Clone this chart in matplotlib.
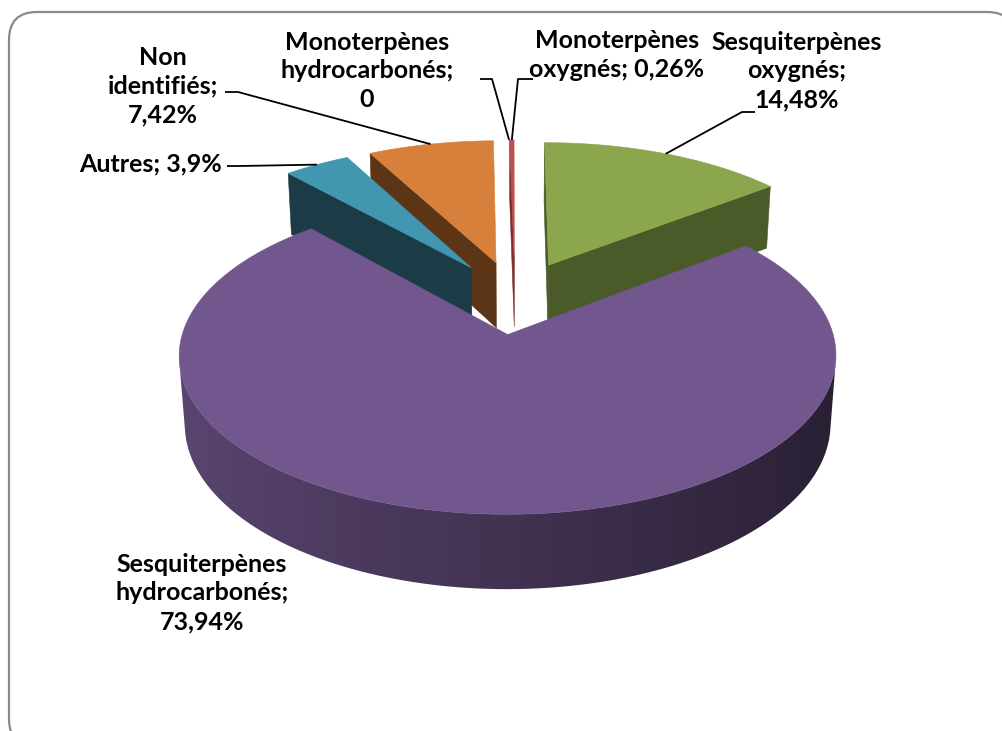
import numpy as np
import matplotlib
matplotlib.use("Agg")
import matplotlib.pyplot as plt
from matplotlib.patches import Polygon, FancyBboxPatch
from matplotlib.colors import to_rgb

# ---------------------------------------------------------------- data
categories = ["Monoterpènes hydrocarbonés", "Monoterpènes oxygnés",
              "Sesquiterpènes oxygnés", "Sesquiterpènes hydrocarbonés",
              "Autres", "Non identifiés"]
values = [0.0, 0.26, 14.48, 73.94, 3.9, 7.42]
value_labels = ["0", "0,26%", "14,48%", "73,94%", "3,9%", "7,42%"]

# ---------------------------------------------------------------- style
top_colors = ["#4F81BD", "#BE4F4C", "#8BA64C", "#71578D", "#4197AF", "#D7803B"]
side_colors = ["#2A4466", "#7A2E2C", "#4A5A29", "#5E4A7A", "#1B3B47", "#5C3517"]

W, H = 1003, 731
FIRST_ANGLE = 359.0          # degrees, clockwise from 12 o'clock
EXPLODE = 0.25               # in pie radii
THICK = 0.242                # pie height, in radii
ELEV = np.deg2rad(27.6)      # viewing elevation
DIST = 6.87                  # camera distance, in radii
SCALE = 315.0                # pixels per radius
CX, CY = 515.0, 297.0        # screen position of the pie centre (top face)

# label layout: line breaks (after word index), block centre, leader path
label_breaks = [[0, 1], [0], [0, 1], [0, 1], [], [0, 1]]
label_pos = [(367, 71), (617, 55), (797, 71), (202, 593), (151, 164), (163, 86)]
leader_start = [[(480, 79), (492, 79)],
                [(533, 79), (518, 79)],
                [(755, 112), (742, 112)],
                None,
                [(227, 166), (240, 166)],
                [(225, 92), (238, 92)]]


def project(x, y, z):
    """Perspective projection of pie space (x right, y away, z up) to pixels."""
    s, c = np.sin(ELEV), np.cos(ELEV)
    depth = y * c - z * s
    f = DIST / (DIST + depth)
    return CX + SCALE * x * f, CY - SCALE * (y * s + z * c) * f


def camera():
    s, c = np.sin(ELEV), np.cos(ELEV)
    return np.array([0.0, -DIST * c, DIST * s])


def facing(point, normal):
    return np.dot(np.asarray(point) - camera(), normal) < 0


def shade(color, k):
    return np.clip(np.array(to_rgb(color)) * k, 0, 1)


fig = plt.figure(figsize=(W / 100, H / 100), dpi=100)
ax = fig.add_axes([0, 0, 1, 1])

# chart frame
frame = FancyBboxPatch((9, 12), 1006, 735, boxstyle="round,pad=0,rounding_size=28",
                       facecolor="white", edgecolor="#8A8A8A", linewidth=1.6,
                       clip_on=False, zorder=0)
ax.add_patch(frame)

total = sum(values)
angles = []
a = FIRST_ANGLE
for v in values:
    span = v / total * 360.0
    angles.append((a, a + span))
    a += span

slices = []
for i, (v, (t0, t1)) in enumerate(zip(values, angles)):
    mid = np.deg2rad((t0 + t1) / 2)
    ox, oy = EXPLODE * np.sin(mid), EXPLODE * np.cos(mid)
    slices.append((i, v, np.deg2rad(t0), np.deg2rad(t1), ox, oy))


def draw_wall(i, th, ox, oy, z):
    """Curved outer wall over angles th, filled with a horizontal light gradient."""
    xs, ys = ox + np.sin(th), oy + np.cos(th)
    tx, ty = project(xs, ys, 0)
    bx, by = project(xs, ys, -THICK)
    poly = np.column_stack([np.r_[tx, bx[::-1]], np.r_[ty, by[::-1]]])
    patch = Polygon(poly, closed=True, facecolor="none", edgecolor="none",
                    transform=ax.transData)
    ax.add_patch(patch)
    k = 0.58 - 0.22 * np.sin(th)
    order_x = np.argsort(tx)
    x0, x1 = poly[:, 0].min() - 1, poly[:, 0].max() + 1
    y0, y1 = poly[:, 1].min() - 1, poly[:, 1].max() + 1
    gx = np.linspace(x0, x1, 600)
    kk = np.interp(gx, tx[order_x], k[order_x])
    img = np.array([shade(top_colors[i], q) for q in kk])[None, :, :]
    im = ax.imshow(img, extent=[x0, x1, y1, y0], aspect="auto",
                   interpolation="bilinear", zorder=z)
    im.set_clip_path(patch)


# far slices first
order = sorted(slices, key=lambda s: -s[5])
z_level = 1
for i, v, t0, t1, ox, oy in order:
    if v <= 0:
        continue
    n = max(int(np.degrees(t1 - t0) * 2), 2)
    th = np.linspace(t0, t1, n + 1)
    xs = ox + np.sin(th)
    ys = oy + np.cos(th)

    # visible parts of the outer curved wall
    vis = np.array([facing([ox + np.sin(t), oy + np.cos(t), -THICK / 2],
                           [np.sin(t), np.cos(t), 0.0]) for t in th])
    j = 0
    while j < len(th):
        if vis[j]:
            k = j
            while k + 1 < len(th) and vis[k + 1]:
                k += 1
            if k > j:
                draw_wall(i, th[j:k + 1], ox, oy, z_level)
            j = k + 1
        else:
            j += 1

    # flat radial walls
    for t, sign in ((t0, -1), (t1, 1)):
        nrm = sign * np.array([np.cos(t), -np.sin(t), 0.0])
        pm = np.array([ox + 0.5 * np.sin(t), oy + 0.5 * np.cos(t), -THICK / 2])
        if not facing(pm, nrm):
            continue
        rx, ry = ox + np.sin(t), oy + np.cos(t)
        p = [project(ox, oy, 0), project(rx, ry, 0),
             project(rx, ry, -THICK), project(ox, oy, -THICK)]
        ax.add_patch(Polygon(p, closed=True, facecolor=side_colors[i],
                             edgecolor=side_colors[i], linewidth=0.4,
                             zorder=z_level + 0.2))
    # top face
    tx, ty = project(np.r_[ox, xs], np.r_[oy, ys], 0)
    ax.add_patch(Polygon(np.column_stack([tx, ty]), closed=True,
                         facecolor=top_colors[i], edgecolor=top_colors[i],
                         linewidth=0.4, zorder=z_level + 0.5))
    z_level += 1

# data labels with leader lines
for i, (cat, vl) in enumerate(zip(categories, value_labels)):
    words = f"{cat}; {vl}".split(" ")
    txt = ""
    for k, w in enumerate(words):
        txt += w
        if k < len(words) - 1:
            txt += "\n" if k in label_breaks[i] else " "
    x, y = label_pos[i]
    ax.text(x, y, txt, ha="center", va="center", multialignment="center",
            fontsize=18, fontweight="bold", family=["Lato", "DejaVu Sans"],
            color="black", linespacing=1.3, zorder=20)
    if leader_start[i] is not None:
        _, _, t0, t1, ox, oy = slices[i]
        tm = 0.5 * (t0 + t1)
        ex, ey = project(ox + np.sin(tm), oy + np.cos(tm), 0)
        pts = leader_start[i] + [(ex, ey)]
        ax.plot([p[0] for p in pts], [p[1] for p in pts], color="black",
                linewidth=1.3, zorder=19, solid_capstyle="butt")

ax.set_xlim(0, W)
ax.set_ylim(H, 0)
ax.axis("off")
fig.savefig("out.png", dpi=100)
